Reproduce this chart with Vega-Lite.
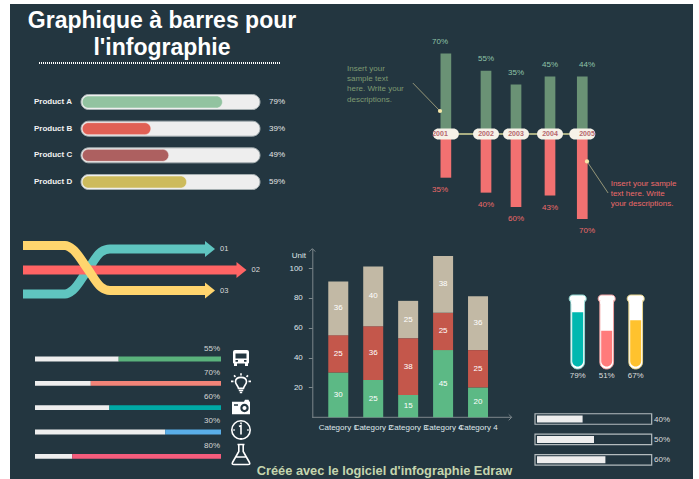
{
"$schema":"https://vega.github.io/schema/vega-lite/v6.json",
"width":699,"height":479,"padding":0,
"autosize":{"type":"fit","contains":"padding"},
"background":"#ffffff",
"view":{"stroke":null},
"config":{"text":{"font":"Liberation Sans","fontSize":8},"axis":{"grid":false,"labelFont":"Liberation Sans","titleFont":"Liberation Sans"}},
"data":{"values":[{"item":"decor"}]},
"datasets":{
"title":[{"line":1,"text":"Graphique à barres pour"},{"line":2,"text":"l'infographie"}],
"products":[{"product":"Product A","value":79,"label":"79%"},{"product":"Product B","value":39,"label":"39%"},{"product":"Product C","value":49,"label":"49%"},{"product":"Product D","value":59,"label":"59%"}],
"years":[
{"year":2001,"label":"2001","up":70,"down":-38,"upLabel":"70%","downLabel":"35%"},
{"year":2002,"label":"2002","up":55,"down":-51,"upLabel":"55%","downLabel":"40%"},
{"year":2003,"label":"2003","up":43,"down":-63.5,"upLabel":"35%","downLabel":"60%"},
{"year":2004,"label":"2004","up":50,"down":-53.5,"upLabel":"45%","downLabel":"43%"},
{"year":2005,"label":"2005","up":50,"down":-74,"upLabel":"44%","downLabel":"70%"}],
"notes":[{"fromYear":2000.41,"fromValue":44.3,"year":2001,"value":20,"kind":"up"},{"fromYear":2005.57,"fromValue":-51.3,"year":2005,"value":-23.9,"kind":"down"}],
"noteLeft":[{"line":1,"text":"Insert your"},{"line":2,"text":"sample text"},{"line":3,"text":"here. Write your"},{"line":4,"text":"descriptions."}],
"noteRight":[{"line":1,"text":"Insert your sample"},{"line":2,"text":"text here. Write"},{"line":3,"text":"your descriptions."}],
"ribbons":[
{"s":"teal","t":0,"level":54},{"s":"teal","t":42,"level":54},{"s":"teal","t":50,"level":50},{"s":"teal","t":64,"level":31},{"s":"teal","t":78,"level":12},{"s":"teal","t":87,"level":9},{"s":"teal","t":182,"level":9},
{"s":"red","t":0,"level":30},{"s":"red","t":214,"level":30},
{"s":"yellow","t":0,"level":5.5},{"s":"yellow","t":42,"level":5.5},{"s":"yellow","t":50,"level":9.5},{"s":"yellow","t":64,"level":28},{"s":"yellow","t":78,"level":47},{"s":"yellow","t":87,"level":50.5},{"s":"yellow","t":182,"level":50.5}],
"heads":[{"s":"teal","t":187,"level":9,"label":"01"},{"s":"red","t":218.5,"level":30,"label":"02"},{"s":"yellow","t":187,"level":50.5,"label":"03"}],
"metrics":[{"m":"bus","value":55,"label":"55%"},{"m":"light","value":70,"label":"70%"},{"m":"camera","value":60,"label":"60%"},{"m":"clock","value":30,"label":"30%"},{"m":"flask","value":80,"label":"80%"}],
"stacks":[
{"cat":"Category 1","series":"a","value":30},{"cat":"Category 1","series":"b","value":25},{"cat":"Category 1","series":"c","value":36},
{"cat":"Category 2","series":"a","value":25},{"cat":"Category 2","series":"b","value":36},{"cat":"Category 2","series":"c","value":40},
{"cat":"Category 3","series":"a","value":15},{"cat":"Category 3","series":"b","value":38},{"cat":"Category 3","series":"c","value":25},
{"cat":"Category 4","series":"a","value":45},{"cat":"Category 4","series":"b","value":25},{"cat":"Category 4","series":"c","value":38},
{"cat":"Category 5","series":"a","value":20},{"cat":"Category 5","series":"b","value":25},{"cat":"Category 5","series":"c","value":36}],
"tubes":[{"tube":"A","value":79,"label":"79%"},{"tube":"B","value":51,"label":"51%"},{"tube":"C","value":67,"label":"67%"}],
"levels":[{"row":"a","value":40,"label":"40%"},{"row":"b","value":50,"label":"50%"},{"row":"c","value":60,"label":"60%"}]
},
"layer":[
{"mark":{"type":"rect","fill":"#233640"},"encoding":{"x":{"datum":0,"type":"quantitative","axis":null,"scale":{"domain":[0,1],"range":[10,693]}},"x2":{"datum":1},"y":{"datum":0,"type":"quantitative","axis":null,"scale":{"domain":[0,1],"range":[479,4]}},"y2":{"datum":1}}},

{"data":{"name":"title"},"mark":{"type":"text","fontSize":23,"fontWeight":"bold","color":"#ffffff","baseline":"alphabetic","align":"center"},"encoding":{"x":{"datum":0.5,"type":"quantitative","axis":null,"scale":{"domain":[0,1],"range":[0,324]}},"y":{"field":"line","type":"ordinal","axis":null,"scale":{"type":"point","padding":0,"range":[28,55]}},"text":{"field":"text"}}},
{"mark":{"type":"rule","color":"#ffffff","strokeWidth":2,"strokeDash":[1,1]},"encoding":{"x":{"datum":0,"type":"quantitative","axis":null,"scale":{"domain":[0,1],"range":[39,281]}},"x2":{"datum":1},"y":{"datum":0,"type":"quantitative","axis":null,"scale":{"domain":[0,1],"range":[63,62]}}}},

{"data":{"name":"products"},"mark":{"type":"bar","height":15,"cornerRadius":7.5,"fill":"#eeeeee","stroke":"#a4aeb0","strokeWidth":1},"encoding":{"x":{"datum":0,"type":"quantitative","axis":null,"scale":{"domain":[0,100],"range":[81,260]}},"x2":{"datum":100},"y":{"field":"product","type":"nominal","axis":null,"scale":{"type":"point","padding":0,"range":[102,182]}}}},
{"data":{"name":"products"},"mark":{"type":"bar","height":12,"cornerRadius":6,"stroke":"#f4f4f4","strokeOpacity":0.5},"encoding":{"x":{"field":"value","type":"quantitative","axis":null,"scale":{"domain":[0,100],"range":[81,260]}},"x2":{"datum":0.7},"y":{"field":"product","type":"nominal","axis":null,"scale":{"type":"point","padding":0,"range":[102,182]}},"color":{"field":"product","type":"nominal","legend":null,"scale":{"range":["#92c3a0","#e06055","#ad6060","#cdbb5c"]}}}},
{"data":{"name":"products"},"mark":{"type":"text","fontWeight":"bold","color":"#f2f2f2","align":"left","dx":-47},"encoding":{"x":{"datum":0,"type":"quantitative","axis":null,"scale":{"domain":[0,100],"range":[81,260]}},"y":{"field":"product","type":"nominal","axis":null,"scale":{"type":"point","padding":0,"range":[102,182]}},"text":{"field":"product"}}},
{"data":{"name":"products"},"mark":{"type":"text","color":"#e6e6e6","align":"left","dx":9},"encoding":{"x":{"datum":100,"type":"quantitative","axis":null,"scale":{"domain":[0,100],"range":[81,260]}},"y":{"field":"product","type":"nominal","axis":null,"scale":{"type":"point","padding":0,"range":[102,182]}},"text":{"field":"label"}}},

{"data":{"name":"years"},"mark":{"type":"bar","width":10.7,"orient":"vertical","fill":"#6a9275"},"encoding":{"x":{"field":"year","type":"quantitative","axis":null,"scale":{"domain":[2001,2002,2003,2004,2005],"range":[440,486,516,550,587]}},"y":{"field":"up","type":"quantitative","axis":null,"scale":{"domain":[-100,100],"range":[249,19]}},"y2":{"datum":0}}},
{"data":{"name":"years"},"mark":{"type":"bar","width":10.7,"orient":"vertical","fill":"#f27171"},"encoding":{"x":{"field":"year","type":"quantitative","axis":null,"scale":{"domain":[2001,2002,2003,2004,2005],"range":[440,486,516,550,587]}},"y":{"field":"down","type":"quantitative","axis":null,"scale":{"domain":[-100,100],"range":[249,19]}},"y2":{"datum":0}}},
{"mark":{"type":"rule","color":"#a9ae82","strokeWidth":2},"encoding":{"x":{"datum":2001,"type":"quantitative","axis":null,"scale":{"domain":[2001,2002,2003,2004,2005],"range":[440,486,516,550,587]}},"x2":{"datum":2005},"y":{"datum":0,"type":"quantitative","axis":null,"scale":{"domain":[-100,100],"range":[249,19]}}}},
{"data":{"name":"years"},"mark":{"type":"bar","width":26,"orient":"vertical","cornerRadius":5.5,"fill":"#f6f2e8"},"encoding":{"x":{"field":"year","type":"quantitative","axis":null,"scale":{"domain":[2001,2002,2003,2004,2005],"range":[440,486,516,550,587]}},"y":{"datum":4.8,"type":"quantitative","axis":null,"scale":{"domain":[-100,100],"range":[249,19]}},"y2":{"datum":-4.8}}},
{"data":{"name":"years"},"mark":{"type":"text","fontSize":7,"fontWeight":"bold","color":"#b5676e"},"encoding":{"x":{"field":"year","type":"quantitative","axis":null,"scale":{"domain":[2001,2002,2003,2004,2005],"range":[440,486,516,550,587]}},"y":{"datum":0,"type":"quantitative","axis":null,"scale":{"domain":[-100,100],"range":[249,19]}},"text":{"field":"label"}}},
{"data":{"name":"years"},"mark":{"type":"text","color":"#8fc4a8","dy":-12},"encoding":{"x":{"field":"year","type":"quantitative","axis":null,"scale":{"domain":[2001,2002,2003,2004,2005],"range":[440,486,516,550,587]}},"y":{"field":"up","type":"quantitative","axis":null,"scale":{"domain":[-100,100],"range":[249,19]}},"text":{"field":"upLabel"}}},
{"data":{"name":"years"},"mark":{"type":"text","color":"#ee6a6a","dy":12},"encoding":{"x":{"field":"year","type":"quantitative","axis":null,"scale":{"domain":[2001,2002,2003,2004,2005],"range":[440,486,516,550,587]}},"y":{"field":"down","type":"quantitative","axis":null,"scale":{"domain":[-100,100],"range":[249,19]}},"text":{"field":"downLabel"}}},
{"data":{"name":"notes"},"mark":{"type":"rule","color":"#b3ae86","strokeWidth":0.8},"encoding":{"x":{"field":"fromYear","type":"quantitative","axis":null,"scale":{"domain":[2001,2002,2003,2004,2005],"range":[440,486,516,550,587]}},"x2":{"field":"year"},"y":{"field":"fromValue","type":"quantitative","axis":null,"scale":{"domain":[-100,100],"range":[249,19]}},"y2":{"field":"value"}}},
{"data":{"name":"notes"},"mark":{"type":"point","filled":true,"opacity":1,"fill":"#f6e7a8","size":18},"encoding":{"x":{"field":"year","type":"quantitative","axis":null,"scale":{"domain":[2001,2002,2003,2004,2005],"range":[440,486,516,550,587]}},"y":{"field":"value","type":"quantitative","axis":null,"scale":{"domain":[-100,100],"range":[249,19]}}}},
{"data":{"name":"noteLeft"},"mark":{"type":"text","color":"#7e9a72","align":"left"},"encoding":{"x":{"datum":0,"type":"quantitative","axis":null,"scale":{"domain":[0,1],"range":[347,348]}},"y":{"field":"line","type":"ordinal","axis":null,"scale":{"type":"point","padding":0,"range":[69.3,99.5]}},"text":{"field":"text"}}},
{"data":{"name":"noteRight"},"mark":{"type":"text","color":"#ee6a6a","align":"left"},"encoding":{"x":{"datum":0,"type":"quantitative","axis":null,"scale":{"domain":[0,1],"range":[610.7,611.7]}},"y":{"field":"line","type":"ordinal","axis":null,"scale":{"type":"point","padding":0,"range":[183.7,204]}},"text":{"field":"text"}}},

{"data":{"name":"ribbons"},"transform":[{"filter":"datum.s==='teal'"}],"mark":{"type":"line","color":"#5fc5c0","strokeWidth":9,"interpolate":"monotone"},"encoding":{"x":{"field":"t","type":"quantitative","axis":null,"scale":{"domain":[0,223],"range":[23,246]}},"y":{"field":"level","type":"quantitative","axis":null,"scale":{"domain":[0,60],"range":[240,300]}}}},
{"data":{"name":"ribbons"},"transform":[{"filter":"datum.s==='red'"}],"mark":{"type":"line","color":"#ff6464","strokeWidth":9},"encoding":{"x":{"field":"t","type":"quantitative","axis":null,"scale":{"domain":[0,223],"range":[23,246]}},"y":{"field":"level","type":"quantitative","axis":null,"scale":{"domain":[0,60],"range":[240,300]}}}},
{"data":{"name":"ribbons"},"transform":[{"filter":"datum.s==='yellow'"}],"mark":{"type":"line","color":"#ffd56e","strokeWidth":9,"interpolate":"monotone"},"encoding":{"x":{"field":"t","type":"quantitative","axis":null,"scale":{"domain":[0,223],"range":[23,246]}},"y":{"field":"level","type":"quantitative","axis":null,"scale":{"domain":[0,60],"range":[240,300]}}}},
{"data":{"name":"heads"},"mark":{"type":"point","filled":true,"opacity":1,"size":100,"shape":"M-1,-1.6L1,0L-1,1.6Z"},"encoding":{"x":{"field":"t","type":"quantitative","axis":null,"scale":{"domain":[0,223],"range":[23,246]}},"y":{"field":"level","type":"quantitative","axis":null,"scale":{"domain":[0,60],"range":[240,300]}},"fill":{"field":"s","type":"nominal","legend":null,"scale":{"domain":["teal","red","yellow"],"range":["#5fc5c0","#ff6464","#ffd56e"]}}}},
{"data":{"name":"heads"},"mark":{"type":"text","color":"#dddddd","align":"left","dx":10,"fontSize":7.5},"encoding":{"x":{"field":"t","type":"quantitative","axis":null,"scale":{"domain":[0,223],"range":[23,246]}},"y":{"field":"level","type":"quantitative","axis":null,"scale":{"domain":[0,60],"range":[240,300]}},"text":{"field":"label"}}},

{"data":{"name":"metrics"},"mark":{"type":"bar","height":4.8,"fill":"#eeeeee"},"encoding":{"x":{"field":"value","type":"quantitative","axis":null,"scale":{"domain":[0,100],"range":[221,35]}},"x2":{"datum":100},"y":{"field":"m","type":"nominal","axis":null,"scale":{"type":"point","padding":0,"domain":["bus","light","camera","clock","flask"],"range":[359,456.3]}}}},
{"data":{"name":"metrics"},"mark":{"type":"bar","height":4.8},"encoding":{"x":{"field":"value","type":"quantitative","axis":null,"scale":{"domain":[0,100],"range":[221,35]}},"x2":{"datum":0},"y":{"field":"m","type":"nominal","axis":null,"scale":{"type":"point","padding":0,"domain":["bus","light","camera","clock","flask"],"range":[359,456.3]}},"color":{"field":"m","type":"nominal","legend":null,"scale":{"domain":["bus","light","camera","clock","flask"],"range":["#5ab27c","#f28478","#00a9a5","#5aaee8","#f55c7c"]}}}},
{"data":{"name":"metrics"},"mark":{"type":"text","color":"#d6d6d6","align":"right","dy":-10.5,"dx":-1},"encoding":{"x":{"datum":0,"type":"quantitative","axis":null,"scale":{"domain":[0,100],"range":[221,35]}},"y":{"field":"m","type":"nominal","axis":null,"scale":{"type":"point","padding":0,"domain":["bus","light","camera","clock","flask"],"range":[359,456.3]}},"text":{"field":"label"}}},
{"data":{"name":"metrics"},"transform":[{"filter":"datum.m==='bus'||datum.m==='camera'"}],"mark":{"type":"point","filled":true,"opacity":1,"fill":"#ffffff","size":400},"encoding":{"x":{"datum":-10.75,"type":"quantitative","axis":null,"scale":{"domain":[0,100],"range":[221,35]}},"y":{"field":"m","type":"nominal","axis":null,"scale":{"type":"point","padding":0,"domain":["bus","light","camera","clock","flask"],"range":[359,456.3]}},"shape":{"field":"m","type":"nominal","legend":null,"scale":{"domain":["bus","camera"],"range":["M-0.6,-0.9H0.6Q0.8,-0.9 0.8,-0.7V0.35Q0.8,0.45 0.7,0.45V0.7H0.4V0.45H-0.4V0.7H-0.7V0.45Q-0.8,0.45 -0.8,0.35V-0.7Q-0.8,-0.9 -0.6,-0.9ZM-0.55,-0.55V-0.05H0.55V-0.55ZM-0.55,0.1V0.28H-0.3V0.1ZM0.3,0.1V0.28H0.55V0.1Z","M-0.9,-0.6H0.3L0.4,-0.8H0.75L0.85,-0.6H0.9V0.65H-0.9ZM0.77,0.03A0.42,0.42 0 1 0 -0.07,0.03A0.42,0.42 0 1 0 0.77,0.03ZM0.15,0.03A0.2,0.2 0 1 1 0.55,0.03A0.2,0.2 0 1 1 0.15,0.03ZM-0.7,-0.35V-0.2H-0.3V-0.35Z"]}}}},
{"data":{"name":"metrics"},"transform":[{"filter":"datum.m==='light'||datum.m==='clock'||datum.m==='flask'"}],"mark":{"type":"point","filled":false,"opacity":1,"stroke":"#ffffff","strokeWidth":1.6,"size":400},"encoding":{"x":{"datum":-10.75,"type":"quantitative","axis":null,"scale":{"domain":[0,100],"range":[221,35]}},"y":{"field":"m","type":"nominal","axis":null,"scale":{"type":"point","padding":0,"domain":["bus","light","camera","clock","flask"],"range":[359,456.3]}},"shape":{"field":"m","type":"nominal","legend":null,"scale":{"domain":["light","clock","flask"],"range":["M-0.25,0.5C-0.3,0.2 -0.55,0.1 -0.55,-0.15C-0.55,-0.45 -0.3,-0.6 0,-0.6C0.3,-0.6 0.55,-0.45 0.55,-0.15C0.55,0.1 0.3,0.2 0.25,0.5ZM-0.22,0.72H0.22M-0.12,0.92H0.12M0,-0.78V-1M-0.55,-0.65L-0.7,-0.8M0.55,-0.65L0.7,-0.8M-0.75,-0.2H-1M0.75,-0.2H1","M0.92,-0.2A0.92,0.92 0 1 1 -0.92,-0.2A0.92,0.92 0 1 1 0.92,-0.2ZM0,-0.95V-0.8M0,0.6V0.75M-0.77,-0.2H-0.62M0.62,-0.2H0.77M-0.2,-0.55L0,-0.65V0.25","M-0.35,-1.18H0.35M-0.22,-1.18V-0.48L-0.85,0.62Q-0.95,0.82 -0.7,0.82H0.7Q0.95,0.82 0.85,0.62L0.22,-0.48V-1.18M-0.5,0.07H0.5"]}}}},

{"mark":{"type":"rule","color":"#7d878b","strokeWidth":1},"encoding":{"x":{"datum":0,"type":"quantitative","axis":null,"scale":{"domain":[0,1],"range":[312.3,511.7]}},"x2":{"datum":1},"y":{"datum":0,"type":"quantitative","axis":null,"scale":{"domain":[0,113],"range":[417.3,248.6]}}}},
{"mark":{"type":"point","filled":false,"opacity":1,"stroke":"#7d878b","strokeWidth":1,"size":36,"shape":"M-1,-1L0,0L-1,1"},"encoding":{"x":{"datum":1,"type":"quantitative","axis":null,"scale":{"domain":[0,1],"range":[312.3,511.7]}},"y":{"datum":0,"type":"quantitative","axis":null,"scale":{"domain":[0,113],"range":[417.3,248.6]}}}},
{"mark":{"type":"point","filled":false,"opacity":1,"stroke":"#7d878b","strokeWidth":1,"size":36,"shape":"M-1,1L0,0L1,1"},"encoding":{"x":{"datum":0,"type":"quantitative","axis":null,"scale":{"domain":[0,1],"range":[312.3,511.7]}},"y":{"datum":113,"type":"quantitative","axis":null,"scale":{"domain":[0,113],"range":[417.3,248.6]}}}},
{"data":{"name":"stacks"},"transform":[{"stack":"value","groupby":["cat"],"sort":[{"field":"series","order":"ascending"}],"as":["s0","s1"]}],"mark":{"type":"bar","width":20},"encoding":{"x":{"field":"cat","type":"nominal","title":null,"scale":{"type":"band","padding":0,"range":[320.8,495.5]},"axis":{"orient":"bottom","offset":-61.7,"domain":false,"ticks":false,"labelAngle":0,"labelColor":"#dfe6ea","labelFontSize":8,"labelOverlap":false,"labelPadding":6,"labelLimit":0,"zindex":1,"labelExpr":"datum.label==='Category 5'?'Category 4':datum.label"}},"y":{"field":"s1","type":"quantitative","scale":{"domain":[0,113],"range":[417.3,248.6]},"axis":{"orient":"left","offset":-312.3,"values":[20,40,60,80,100],"title":"Unit","titleAngle":0,"titleX":-14,"titleY":255.7,"titleAlign":"center","titleBaseline":"middle","titleColor":"#dfe6ea","titleFontSize":8,"titleFontWeight":"normal","domainColor":"#7d878b","tickColor":"#7d878b","tickSize":4,"labelColor":"#dfe6ea","labelFontSize":8,"labelPadding":6,"zindex":1}},"y2":{"field":"s0"},"color":{"field":"series","type":"nominal","legend":null,"scale":{"domain":["a","b","c"],"range":["#5cb985","#c4574b","#c2b9a5"]}}}},
{"data":{"name":"stacks"},"transform":[{"stack":"value","groupby":["cat"],"sort":[{"field":"series","order":"ascending"}],"as":["s0","s1"]},{"fold":["s0","s1"],"as":["edge","pos"]}],"mark":{"type":"text","color":"#ffffff","fontSize":8},"encoding":{"x":{"field":"cat","type":"nominal","axis":null,"scale":{"type":"band","padding":0,"range":[320.8,495.5]}},"y":{"aggregate":"mean","field":"pos","type":"quantitative","axis":null,"scale":{"domain":[0,113],"range":[417.3,248.6]}},"detail":{"field":"series"},"text":{"field":"value","type":"quantitative"}}},

{"data":{"name":"tubes"},"mark":{"type":"bar","width":17,"orient":"vertical","fill":"#ffffff","strokeWidth":1,"cornerRadius":3.5},"encoding":{"x":{"field":"tube","type":"nominal","axis":null,"scale":{"type":"point","padding":0,"range":[577.7,635.7]}},"y":{"datum":105.3,"type":"quantitative","axis":null,"scale":{"domain":[0,100],"range":[364.5,298.5]}},"y2":{"datum":94},"stroke":{"field":"tube","type":"nominal","legend":null,"scale":{"range":["#8fd6d0","#f0a0a0","#e8d48a"]}}}},
{"data":{"name":"tubes"},"mark":{"type":"bar","width":13.7,"orient":"vertical","fill":"#ffffff","strokeWidth":1,"cornerRadiusBottomLeft":6.8,"cornerRadiusBottomRight":6.8},"encoding":{"x":{"field":"tube","type":"nominal","axis":null,"scale":{"type":"point","padding":0,"range":[577.7,635.7]}},"y":{"datum":-6.8,"type":"quantitative","axis":null,"scale":{"domain":[0,100],"range":[364.5,298.5]}},"y2":{"datum":97},"stroke":{"field":"tube","type":"nominal","legend":null,"scale":{"range":["#8fd6d0","#f0a0a0","#e8d48a"]}}}},
{"data":{"name":"tubes"},"mark":{"type":"bar","width":13,"orient":"vertical","fill":"#ffffff"},"encoding":{"x":{"field":"tube","type":"nominal","axis":null,"scale":{"type":"point","padding":0,"range":[577.7,635.7]}},"y":{"datum":103,"type":"quantitative","axis":null,"scale":{"domain":[0,100],"range":[364.5,298.5]}},"y2":{"datum":92}}},
{"data":{"name":"tubes"},"mark":{"type":"bar","width":11,"orient":"vertical","cornerRadiusBottomLeft":5.5,"cornerRadiusBottomRight":5.5},"encoding":{"x":{"field":"tube","type":"nominal","axis":null,"scale":{"type":"point","padding":0,"range":[577.7,635.7]}},"y":{"field":"value","type":"quantitative","axis":null,"scale":{"domain":[0,100],"range":[364.5,298.5]}},"y2":{"datum":-3},"color":{"field":"tube","type":"nominal","legend":null,"scale":{"range":["#00b8b0","#ff7b7b","#ffc22e"]}}}},
{"data":{"name":"tubes"},"mark":{"type":"text","color":"#dddddd"},"encoding":{"x":{"field":"tube","type":"nominal","axis":null,"scale":{"type":"point","padding":0,"range":[577.7,635.7]}},"y":{"datum":-17.5,"type":"quantitative","axis":null,"scale":{"domain":[0,100],"range":[364.5,298.5]}},"text":{"field":"label"}}},

{"data":{"name":"levels"},"mark":{"type":"bar","height":10.5,"fill":"transparent","stroke":"#b4bcbe","strokeWidth":1.2},"encoding":{"x":{"datum":-1.75,"type":"quantitative","axis":null,"scale":{"domain":[0,100],"range":[537,651]}},"x2":{"datum":100.6},"y":{"field":"row","type":"nominal","axis":null,"scale":{"type":"point","padding":0,"range":[419,459.8]}}}},
{"data":{"name":"levels"},"mark":{"type":"bar","height":7,"fill":"#eeeeee"},"encoding":{"x":{"field":"value","type":"quantitative","axis":null,"scale":{"domain":[0,100],"range":[537,651]}},"x2":{"datum":0},"y":{"field":"row","type":"nominal","axis":null,"scale":{"type":"point","padding":0,"range":[419,459.8]}}}},
{"data":{"name":"levels"},"mark":{"type":"text","color":"#dddddd","align":"left","dx":3},"encoding":{"x":{"datum":100,"type":"quantitative","axis":null,"scale":{"domain":[0,100],"range":[537,651]}},"y":{"field":"row","type":"nominal","axis":null,"scale":{"type":"point","padding":0,"range":[420,460]}},"text":{"field":"label"}}},

{"mark":{"type":"text","fontSize":12.8,"fontWeight":"bold","color":"#c5d5ae"},"encoding":{"x":{"datum":0.5,"type":"quantitative","axis":null,"scale":{"domain":[0,1],"range":[255,514]}},"y":{"datum":0.5,"type":"quantitative","axis":null,"scale":{"domain":[0,1],"range":[472,470]}},"text":{"value":"Créée avec le logiciel d'infographie Edraw"}}}
],
"resolve":{"scale":{"x":"independent","y":"independent","color":"independent","fill":"independent","stroke":"independent","shape":"independent"},"axis":{"x":"independent","y":"independent"}}
}
